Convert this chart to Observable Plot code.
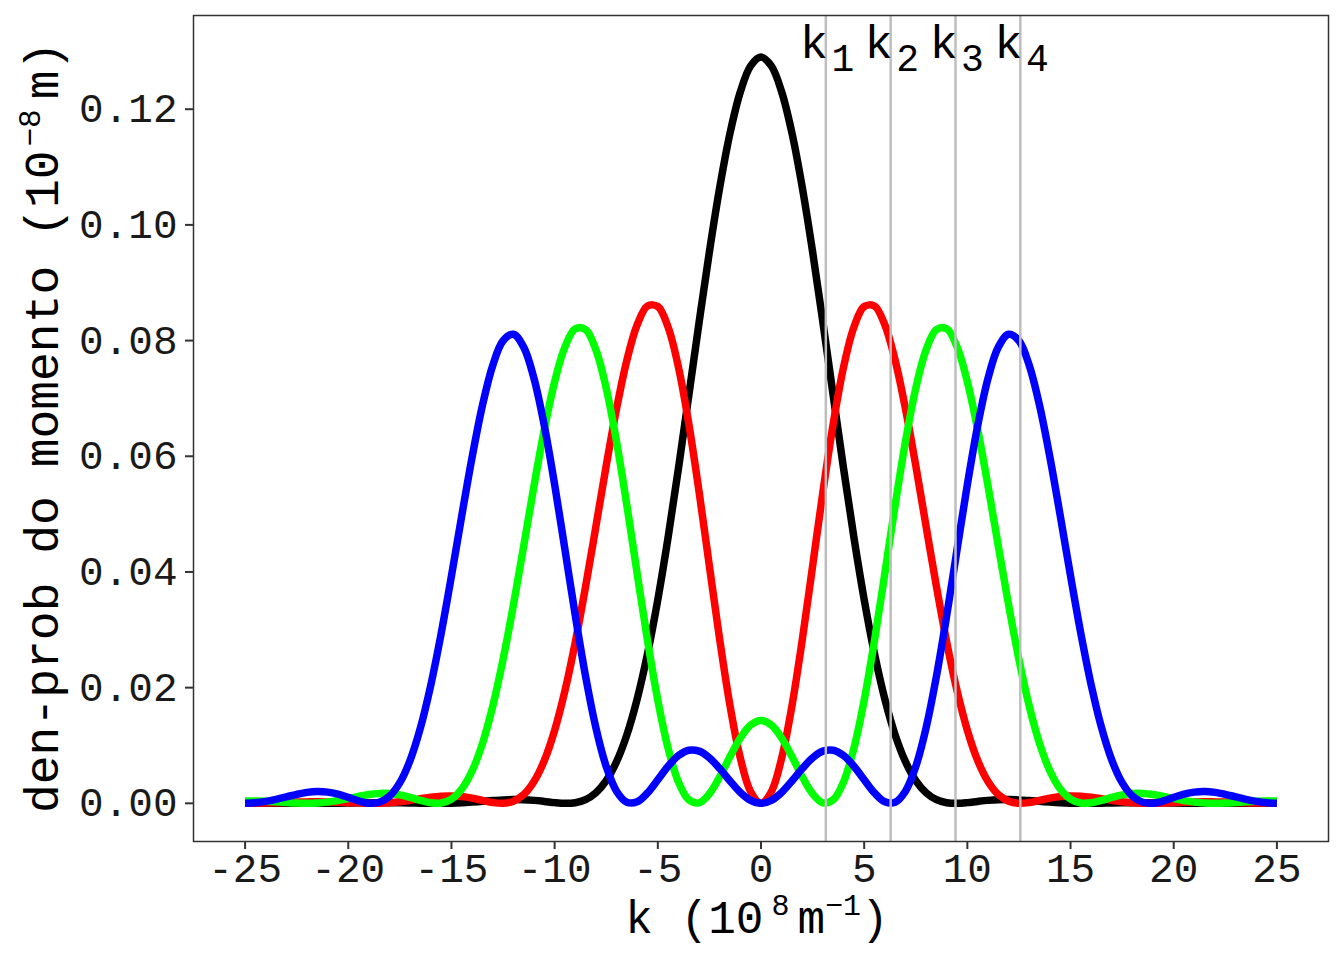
<!DOCTYPE html>
<html>
<head>
<meta charset="utf-8">
<script src="https://cdn.jsdelivr.net/npm/d3@7"></script>
<script src="https://cdn.jsdelivr.net/npm/@observablehq/plot@0.6"></script>
<style>
  html, body { margin: 0; padding: 0; background: #ffffff; }
  #chart svg { display: block; }
</style>
</head>
<body>
<div id="chart"></div>
<script>
// momentum values k (10^8 m^-1)
const kValues = [-25,-24.5,-24,-23.5,-23,-22.5,-22,-21.5,-21,-20.5,-20,-19.5,-19,-18.5,-18,-17.5,-17,-16.5,-16,-15.5,-15,-14.5,-14,-13.5,-13,-12.5,-12,-11.5,-11,-10.5,-10,-9.5,-9,-8.5,-8,-7.5,-7,-6.5,-6,-5.5,-5,-4.5,-4,-3.5,-3,-2.5,-2,-1.5,-1,-0.5,0,0.5,1,1.5,2,2.5,3,3.5,4,4.5,5,5.5,6,6.5,7,7.5,8,8.5,9,9.5,10,10.5,11,11.5,12,12.5,13,13.5,14,14.5,15,15.5,16,16.5,17,17.5,18,18.5,19,19.5,20,20.5,21,21.5,22,22.5,23,23.5,24,24.5,25];

// probability density, state n = 1 (black)
const dens1 = [0.00003,0.00003,0.00003,0.00002,0.00001,0.00000,0.00000,0.00000,0.00002,0.00003,
0.00006,0.00008,0.00010,0.00011,0.00011,0.00009,0.00006,0.00003,0.00000,0.00000,
0.00003,0.00010,0.00021,0.00034,0.00047,0.00059,0.00064,0.00062,0.00051,0.00033,
0.00012,0.00000,0.00011,0.00064,0.00183,0.00393,0.00720,0.01184,0.01804,0.02585,
0.03523,0.04602,0.05791,0.07046,0.08315,0.09537,0.10648,0.11588,0.12302,0.12749,
0.12901,
0.12749,0.12302,0.11588,0.10648,0.09537,0.08315,0.07046,0.05791,0.04602,0.03523,
0.02585,0.01804,0.01184,0.00720,0.00393,0.00183,0.00064,0.00011,0.00000,0.00012,
0.00033,0.00051,0.00062,0.00064,0.00059,0.00047,0.00034,0.00021,0.00010,0.00003,
0.00000,0.00000,0.00003,0.00006,0.00009,0.00011,0.00011,0.00010,0.00008,0.00006,
0.00003,0.00002,0.00000,0.00000,0.00000,0.00001,0.00002,0.00003,0.00003,0.00003];

// n = 2 (red)
const dens2 = [0.00000,0.00002,0.00005,0.00010,0.00016,0.00022,0.00025,0.00027,0.00024,0.00019,
0.00011,0.00004,0.00000,0.00002,0.00011,0.00028,0.00052,0.00079,0.00105,0.00123,
0.00128,0.00117,0.00089,0.00050,0.00014,0.00000,0.00036,0.00151,0.00377,0.00740,
0.01262,0.01947,0.02786,0.03749,0.04788,0.05838,0.06822,0.07660,0.08273,0.08598,
0.08589,0.08231,0.07540,0.06565,0.05384,0.04100,0.02828,0.01685,0.00780,0.00200,
0.00000,
0.00200,0.00780,0.01685,0.02828,0.04100,0.05384,0.06565,0.07540,0.08231,0.08589,
0.08598,0.08273,0.07660,0.06822,0.05838,0.04788,0.03749,0.02786,0.01947,0.01262,
0.00740,0.00377,0.00151,0.00036,0.00000,0.00014,0.00050,0.00089,0.00117,0.00128,
0.00123,0.00105,0.00079,0.00052,0.00028,0.00011,0.00002,0.00000,0.00004,0.00011,
0.00019,0.00024,0.00027,0.00025,0.00022,0.00016,0.00010,0.00005,0.00002,0.00000];

// n = 3 (green)
const dens3 = [0.00039,0.00039,0.00034,0.00025,0.00014,0.00004,0.00000,0.00005,0.00021,0.00047,
0.00082,0.00120,0.00152,0.00171,0.00170,0.00146,0.00102,0.00050,0.00009,0.00005,
0.00073,0.00247,0.00560,0.01033,0.01678,0.02485,0.03425,0.04448,0.05487,0.06462,
0.07289,0.07891,0.08204,0.08191,0.07840,0.07176,0.06253,0.05152,0.03972,0.02816,
0.01782,0.00949,0.00369,0.00061,0.00009,0.00165,0.00459,0.00808,0.01129,0.01353,
0.01433,
0.01353,0.01129,0.00808,0.00459,0.00165,0.00009,0.00061,0.00369,0.00949,0.01782,
0.02816,0.03972,0.05152,0.06253,0.07176,0.07840,0.08191,0.08204,0.07891,0.07289,
0.06462,0.05487,0.04448,0.03425,0.02485,0.01678,0.01033,0.00560,0.00247,0.00073,
0.00005,0.00009,0.00050,0.00102,0.00146,0.00170,0.00171,0.00152,0.00120,0.00082,
0.00047,0.00021,0.00005,0.00000,0.00004,0.00014,0.00025,0.00034,0.00039,0.00039];

// n = 4 (blue)
const dens4 = [0.00000,0.00010,0.00033,0.00069,0.00112,0.00155,0.00189,0.00204,0.00194,0.00158,
0.00102,0.00042,0.00003,0.00018,0.00124,0.00357,0.00746,0.01309,0.02046,0.02934,
0.03931,0.04973,0.05983,0.06876,0.07570,0.07997,0.08109,0.07887,0.07345,0.06529,
0.05512,0.04385,0.03248,0.02195,0.01306,0.00636,0.00209,0.00018,0.00027,0.00180,
0.00408,0.00642,0.00825,0.00918,0.00902,0.00787,0.00601,0.00386,0.00188,0.00050,
0.00000,
0.00050,0.00188,0.00386,0.00601,0.00787,0.00902,0.00918,0.00825,0.00642,0.00408,
0.00180,0.00027,0.00018,0.00209,0.00636,0.01306,0.02195,0.03248,0.04385,0.05512,
0.06529,0.07345,0.07887,0.08109,0.07997,0.07570,0.06876,0.05983,0.04973,0.03931,
0.02934,0.02046,0.01309,0.00746,0.00357,0.00124,0.00018,0.00003,0.00042,0.00102,
0.00158,0.00194,0.00204,0.00189,0.00155,0.00112,0.00069,0.00033,0.00010,0.00000];

const seriesNames = ["n1", "n2", "n3", "n4"];
const seriesColors = ["#000000", "#ff0000", "#00ff00", "#0000ff"];

// reference momenta k1..k4 and their labels
const kLines = [3.1416, 6.2832, 9.4248, 12.5664];
const kSubs = ["1", "2", "3", "4"];
const kLabelY = 0.1311;

const xTicks = [-25, -20, -15, -10, -5, 0, 5, 10, 15, 20, 25];
const yTicks = [0, 0.02, 0.04, 0.06, 0.08, 0.10, 0.12];

const allDens = [dens1, dens2, dens3, dens4];
const rows = allDens.map(arr => kValues.map((k, i) => ({k, p: arr[i]})));

const FONT = "Liberation Mono";
const lineMarks = rows.map((r, i) =>
  Plot.line(r, {x: "k", y: "p", stroke: seriesColors[i], strokeWidth: 7.5, curve: "catmull-rom", strokeLinejoin: "round", strokeLinecap: "butt"})
);

const chart = Plot.plot({
  width: 1344,
  height: 960,
  marginLeft: 193,
  marginRight: 16,
  marginTop: 15,
  marginBottom: 119,
  style: {fontFamily: FONT, fontSize: "41px", background: "#ffffff", color: "#1a1a1a"},
  x: {domain: [-27.5, 27.5]},
  y: {domain: [-0.0066, 0.1362]},
  marks: [
    ...lineMarks,
    Plot.ruleX(kLines, {x: d => d, stroke: "#bebebe", strokeWidth: 2.5}),
    Plot.text(kLines, {x: d => d, y: () => kLabelY, text: () => "k", dx: -12, dy: -2, fontSize: 47, fill: "#000"}),
    Plot.text(kLines, {x: d => d, y: () => kLabelY, text: (d, i) => kSubs[i], dx: 17, dy: 14, fontSize: 38, fill: "#000"}),
    Plot.frame({stroke: "#333333", strokeWidth: 1.5}),
    Plot.axisX({ticks: xTicks, tickFormat: d => String(d), tickSize: 8, tickPadding: 3, stroke: "#333333", strokeWidth: 2, label: null, fill: "#1a1a1a"}),
    Plot.axisY({ticks: yTicks, tickFormat: d3.format(".2f"), tickSize: 8, tickPadding: 8, stroke: "#333333", strokeWidth: 2, label: null, fill: "#1a1a1a"})
  ]
});

document.getElementById("chart").appendChild(chart);

// axis titles with superscripts
const svg = d3.select(chart);
const xt = svg.append("text")
  .attr("x", 757).attr("y", 933)
  .attr("text-anchor", "middle")
  .attr("fill", "#000")
  .style("font-family", FONT).style("font-size", "46px");
xt.append("tspan").text("k (10");
xt.append("tspan").attr("dx", 8).attr("dy", -18).style("font-size", "30px").text("8");
xt.append("tspan").attr("dx", 8).attr("dy", 18).text("m");
xt.append("tspan").attr("dy", -18).style("font-size", "30px").text("\u22121");
xt.append("tspan").attr("dy", 18).text(")");

const yt = svg.append("text")
  .attr("transform", "translate(58,813) rotate(-90)")
  .attr("text-anchor", "start")
  .attr("fill", "#000")
  .style("font-family", FONT).style("font-size", "48px");
yt.append("tspan").text("den-prob do momento (10");
yt.append("tspan").attr("dx", 4).attr("dy", -18).style("font-size", "31px").text("\u22128");
yt.append("tspan").attr("dx", 10).attr("dy", 18).text("m)");
</script>
</body>
</html>
